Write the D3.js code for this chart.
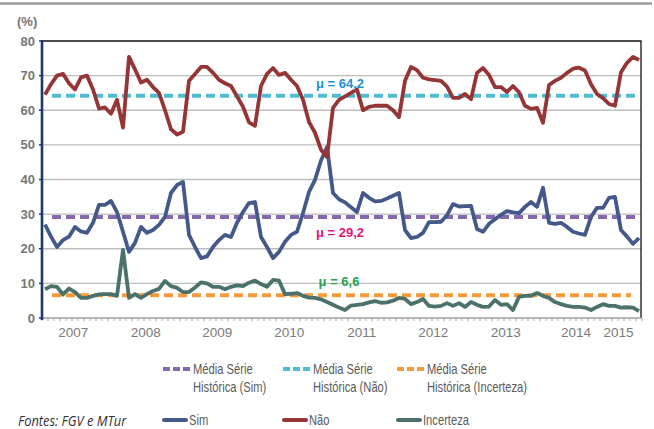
<!DOCTYPE html>
<html><head><meta charset="utf-8">
<script src="https://cdn.jsdelivr.net/npm/d3@7/dist/d3.min.js"></script>
<style>body{margin:0;background:#fff}svg{display:block}</style>
</head><body><svg id="c" width="654" height="429"></svg>
<script>
// Monthly series, Jan 2007 .. Apr 2015 (%)
const nao = [64.5,67.5,70,70.5,67.8,66,69.5,70,66,60.5,60.8,59,63,55,75.4,71.8,68,68.8,66.7,65,60,54.5,53,53.8,68.5,70.5,72.5,72.5,70.8,68.8,
  67.8,67,64,61,56.5,55.5,67,70.5,72.2,70.2,70.8,68.8,67,63,56.6,53.5,48.6,46.5,60.7,63,64,65,66,60,61,61.3,61.3,61.3,60,58,
  68.5,72.5,71.6,69.4,68.9,68.7,68.5,66.8,63.6,63.6,64.7,63.2,70.8,72.2,70.2,66.7,66.7,65.3,67,65.2,61.3,60.4,60.7,56.4,67.3,68.5,69.4,70.8,72,72.3,
  71.5,67.5,64.7,63.5,61.8,61.3,71,73.7,75.4,74.5];
const sim = [27,23.5,20.5,22.5,23.5,26.3,25,24.6,27.5,32.7,32.7,33.8,30.6,24.9,19.1,21.7,26.3,24.6,25.4,26.9,29.2,36.1,38.4,39.3,24,20.5,17.3,17.8,20.5,22.5,
  24,23.4,27.5,30.6,33.2,33.5,23.4,20.5,17.3,19.1,22,24,24.9,30.3,36.4,39.9,45.5,49.4,36.1,34.3,33.4,32,30.6,36.1,34.7,33.7,33.8,34.5,35.3,36.1,
  25.4,23.1,23.4,24.6,27.7,27.7,27.8,29.7,32.9,32.2,32.3,32.4,25.7,24.9,27.2,28.5,29.8,30.9,30.5,30.3,32.1,33.5,32.1,37.6,27.5,27.2,27.5,26.3,24.9,24.4,
  24,29.2,31.8,31.8,34.7,35,25.4,23.5,21.4,23.1];
const incerteza = [8.3,9.2,9,6.8,8.5,7.5,5.8,5.8,6.4,6.8,6.9,6.9,6.4,19.7,5.8,6.9,5.8,6.9,7.8,8.4,10.7,9.2,8.7,7.5,7.5,8.8,10.3,10,9,9,
  8.3,9,9.4,9.2,10.2,10.8,9.8,9,11,10.8,6.9,7,7.2,6.4,5.9,5.8,5.4,4.6,3.8,3,2.3,3.6,3.8,4,4.5,4.9,4.4,4.5,5,5.8,
  5.5,4,4.6,5.5,3.5,3.3,3.5,4.3,3.5,4.3,3.2,4.6,3.8,3.2,3.3,5.2,3.8,4,2.3,6.1,6.4,6.4,7.2,6.4,5.8,4.6,4,3.5,3.2,3.2,
  3,2.3,3.2,4,3.5,3.5,3,3.1,3,2];
const means = [29.2, 64.2, 6.6];            // Sim, Não, Incerteza
const meanLabels = ["μ = 29,2", "μ = 64,2", "μ = 6,6"];
const yearLabels = ["2007","2008","2009","2010","2011","2012","2013","2014","2015"];
const yearLabelPos = [4.7,16.8,28.7,40.7,52.8,64.7,76.8,88.5,95.6]; // month index
const yTicks = [0,10,20,30,40,50,60,70,80];

const svg = d3.select("#c");
const L=42, R=641, T=41, B=318;
const x = d3.scaleLinear().domain([0, 99]).range([45, 639]);
const y = d3.scaleLinear().domain([0, 80]).range([B, T]);

// top rule
svg.append("line").attr("x1",0).attr("x2",652).attr("y1",3.5).attr("y2",3.5).attr("stroke","#9a9a9a").attr("stroke-width",2.5);

// gridlines
svg.append("g").selectAll("line").data(yTicks.filter(d=>d>0&&d<80)).join("line")
  .attr("x1",L).attr("x2",R).attr("y1",d=>y(d)).attr("y2",d=>y(d)).attr("stroke","#bdbdbd").attr("stroke-width",1.3);
// frame top/right
svg.append("line").attr("x1",L).attr("x2",R+0.5).attr("y1",T).attr("y2",T).attr("stroke","#111").attr("stroke-width",1.3);
svg.append("line").attr("x1",R).attr("x2",R).attr("y1",T).attr("y2",B).attr("stroke","#111").attr("stroke-width",1.3);

// x axis
const months = d3.range(-1, 100);
svg.append("g").selectAll("line").data(months).join("line")
  .attr("x1",d=>x(d+0.5)).attr("x2",d=>x(d+0.5)).attr("y1",B).attr("y2",B+3).attr("stroke","#a0a0a0").attr("stroke-width",1);
svg.append("line").attr("x1",L).attr("x2",R).attr("y1",B).attr("y2",B).attr("stroke","#a0a0a0").attr("stroke-width",1.3);
svg.append("g").selectAll("text").data(yearLabels).join("text")
  .attr("x",(d,i)=>x(yearLabelPos[i])).attr("y",337).attr("text-anchor","middle")
  .attr("font-family","'Liberation Sans', Arial, sans-serif").attr("font-size",13.5).attr("fill","#7a7a7a").text(d=>d);

// y axis
svg.append("line").attr("x1",L).attr("x2",L).attr("y1",T-1).attr("y2",B+2).attr("stroke","#1f3864").attr("stroke-width",2.6);
svg.append("g").selectAll("line").data(yTicks).join("line")
  .attr("x1",L-3).attr("x2",L).attr("y1",d=>y(d)).attr("y2",d=>y(d)).attr("stroke","#1f3864").attr("stroke-width",1.5);
svg.append("g").selectAll("text").data(yTicks).join("text")
  .attr("x",35).attr("y",d=>y(d)+4.5).attr("text-anchor","end")
  .attr("font-family","'Liberation Sans', Arial, sans-serif").attr("font-weight","bold").attr("font-size",13).attr("fill","#767676").text(d=>d);
svg.append("text").attr("x",17).attr("y",26).attr("font-family","'Liberation Sans', Arial, sans-serif")
  .attr("font-weight","bold").attr("font-size",13).attr("fill","#767676").text("(%)");

// mean lines
const meanColors = ["#8567ad","#4fbcd2","#f79a3c"];
const meanEnd = [638, 637, 631];
svg.append("g").selectAll("line").data(means).join("line")
  .attr("x1",52).attr("x2",(d,i)=>meanEnd[i]).attr("y1",d=>y(d)).attr("y2",d=>y(d))
  .attr("stroke",(d,i)=>meanColors[i]).attr("stroke-width",4).attr("stroke-dasharray","9,5");

// series
const seriesColors = ["#44598a","#963535","#4a726a"];
const series = [sim, nao, incerteza];
const line = d3.line().x((d,i)=>x(i)).y(d=>y(d));
[incerteza, sim, nao].forEach((s)=>{
  const ci = series.indexOf(s);
  svg.append("path").datum(s).attr("d",line).attr("fill","none")
    .attr("stroke",seriesColors[ci]).attr("stroke-width",3.8).attr("stroke-linejoin","round");
});

// mean labels
const mlColors = ["#e3147c","#1c8fd4","#2aa055"];
const mlX = [340, 340, 339];
const mlDy = [-9, -8, -9];
svg.append("g").selectAll("text").data(means).join("text")
  .attr("x",(d,i)=>mlX[i]).attr("y",(d,i)=>i===0? y(d)+20 : y(d)+mlDy[i])
  .attr("text-anchor","middle").attr("font-family","'Liberation Sans', Arial, sans-serif")
  .attr("font-weight","bold").attr("font-size",13).attr("fill",(d,i)=>mlColors[i]).text((d,i)=>meanLabels[i]);

// legend (condensed text via horizontal scaling)
const lf = "'Liberation Sans', Arial, sans-serif";
const legX = [163, 283, 397];
const meanNames = ["Histórica (Sim)","Histórica (Não)","Histórica (Incerteza)"];
const seriesNames = ["Sim","Não","Incerteza"];
function ltext(tx, ty, str){
  svg.append("text").attr("transform",`translate(${tx},${ty}) scale(0.8,1)`)
    .attr("font-family",lf).attr("font-size",14).attr("fill","#5a5a5a").text(str);
}
legX.forEach((lx,i)=>{
  svg.append("line").attr("x1",lx).attr("x2",lx+27).attr("y1",369).attr("y2",369)
    .attr("stroke",meanColors[i]).attr("stroke-width",4).attr("stroke-dasharray","7,3");
  ltext(lx+30, 374, "Média Série");
  ltext(lx+30, 392, meanNames[i]);
  svg.append("line").attr("x1",lx+1).attr("x2",lx+23).attr("y1",420).attr("y2",420)
    .attr("stroke",seriesColors[i]).attr("stroke-width",4).attr("stroke-linecap","round");
  ltext(lx+26, 425, seriesNames[i]);
});
svg.append("text").attr("transform","translate(18,425.5) scale(0.92,1)").attr("font-family","'Open Sans','Liberation Sans',sans-serif")
  .attr("font-style","italic").attr("font-size",14).attr("fill","#333").text("Fontes: FGV e MTur");
</script></body></html>
